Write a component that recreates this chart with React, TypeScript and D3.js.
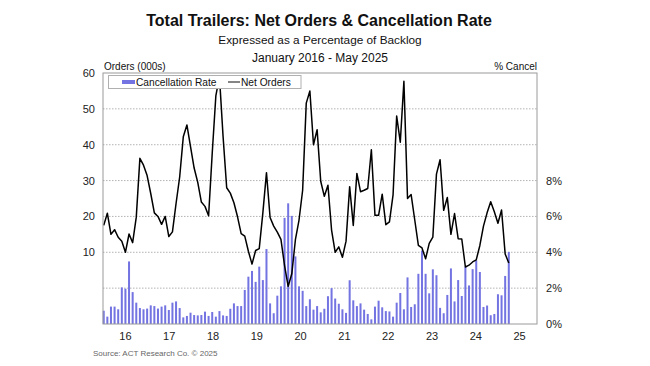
import * as d3 from "d3";

// monthly data, Jan 2016 - May 2025
const netOrders = [
  17.5, 20.9, 15.0, 16.3, 14.2, 13.1, 10.0, 15.1, 12.7, 19.8, 36.2, 34.3,
  31.4, 26.4, 21.0, 20.0, 17.8, 20.0, 14.4, 15.7, 23.6, 31.0, 42.2, 45.5,
  39.5, 33.5, 29.5, 24.0, 22.8, 20.2, 37.6, 53.6, 59.0, 42.3, 28.0, 26.5,
  23.8, 19.9, 15.2, 14.5, 10.3, 6.7, 10.5, 11.0, 21.0, 32.2, 19.7, 17.3,
  15.6, 13.6, 6.3, 0.5, 4.0, 13.5, 19.0, 27.3, 51.6, 55.0, 40.0, 44.2,
  29.8, 25.6, 28.7, 16.2, 10.0, 11.5, 8.6, 13.1, 28.3, 17.5, 32.0, 26.9,
  27.3, 27.8, 38.6, 20.3, 20.3, 26.2, 17.7, 18.5, 26.0, 48.0, 40.7, 57.7,
  25.0, 26.1, 19.0, 11.9, 11.2, 8.2, 12.5, 14.2, 31.8, 35.8, 21.7, 25.3,
  15.0, 20.8, 13.8, 13.7, 5.9, 6.4, 7.3, 7.9, 11.9, 17.3, 21.0, 24.1,
  21.3, 18.1, 21.8, 9.5, 7.0,
];

const cancelRate = [
  0.74, 0.41, 0.97, 0.97, 0.82, 2.04, 1.97, 3.49, 1.78, 1.19, 0.89, 0.82,
  0.86, 1.04, 1.0, 0.86, 0.97, 1.04, 0.78, 1.19, 1.26, 0.89, 0.37, 0.45,
  0.63, 0.5, 0.48, 0.5, 0.69, 0.45, 0.67, 0.41, 0.72, 0.48, 0.45, 0.85,
  1.15, 1.0, 1.0, 1.9, 2.64, 2.96, 2.35, 3.2, 2.45, 4.18, 1.15, 0.6,
  1.58, 2.1, 5.92, 6.73, 6.03, 3.77, 2.1, 1.85, 1.0, 1.38, 0.8, 1.0,
  0.65, 0.85, 1.55, 2.0, 1.42, 1.13, 0.82, 0.62, 2.44, 1.32, 1.0, 1.15,
  0.8, 0.56, 0.26, 0.97, 1.3, 0.93, 0.72, 0.7, 0.41, 1.19, 1.73, 0.82,
  2.6, 0.95, 1.1, 2.8, 4.1, 2.8, 1.71, 3.05, 2.72, 0.9, 0.6, 1.62,
  3.1, 1.26, 2.45, 1.56, 3.2, 2.15, 3.06, 3.55, 2.9, 0.95, 1.03, 0.49,
  0.56, 1.66, 1.6, 2.68, 4.02,
];

const years = ["16", "17", "18", "19", "20", "21", "22", "23", "24", "25"];
const ordersTicks = [10, 20, 30, 40, 50, 60];
const gridTicks = [0, 10, 20, 30, 40, 50];
const pctTicks = [0, 2, 4, 6, 8];

const W = 650;
const H = 366;
const left = 103;
const right = 537;
const top = 73;
const bottom = 324;
const barColor = "#7373e2";
const font = "'Liberation Sans', Arial, sans-serif";

export default function App() {
  // 120 monthly slots, Jan 2016 .. Dec 2025
  const slots = d3.range(120);
  const x = d3.scaleBand<number>().domain(slots).range([left, right]).padding(0);
  const bw = x.bandwidth();
  const xm = (i: number) => (x(i) ?? 0) + bw * 0.2;

  const yL = d3.scaleLinear().domain([-10, 60]).range([bottom, top]);
  const yR = d3.scaleLinear().domain([0, 14]).range([bottom, top]);

  const line = d3
    .line<number>()
    .x((_, i) => xm(i))
    .y(d => yL(d));

  return (
    <svg
      width={W}
      height={H}
      style={{ position: "absolute", left: 0, top: 0, background: "#fff" }}
      fontFamily={font}
    >
      {/* titles */}
      <text x={319} y={26} textAnchor="middle" fontSize={16} fontWeight="bold" fill="#111">
        Total Trailers: Net Orders &amp; Cancellation Rate
      </text>
      <text x={320} y={44} textAnchor="middle" fontSize={11.8} fill="#111">
        Expressed as a Percentage of Backlog
      </text>
      <text x={320} y={62} textAnchor="middle" fontSize={12} fill="#111">
        January 2016 - May 2025
      </text>

      <text x={104} y={70} fontSize={10} fill="#111">Orders (000s)</text>
      <text x={537} y={70} fontSize={10} textAnchor="end" fill="#111">% Cancel</text>

      {/* grid */}
      {gridTicks.map(t => (
        <line
          key={t}
          x1={left}
          x2={right}
          y1={yL(t)}
          y2={yL(t)}
          stroke="#a0a0a0"
          strokeWidth={0.8}
          strokeDasharray="1.5,1.5"
        />
      ))}

      {/* cancellation bars */}
      {cancelRate.map((v, i) => (
        <rect
          key={i}
          x={xm(i) - 1}
          y={yR(v)}
          width={2}
          height={bottom - yR(v)}
          fill={barColor}
        />
      ))}

      {/* net orders */}
      <path d={line(netOrders) ?? ""} fill="none" stroke="#000" strokeWidth={1.5} strokeLinejoin="round" />

      {/* frame */}
      <rect x={left} y={top} width={right - left} height={bottom - top} fill="none" stroke="#9a9a9a" strokeWidth={1} />

      {/* left axis */}
      {ordersTicks.map(t => (
        <text key={t} x={95} y={yL(t) + 4} textAnchor="end" fontSize={11} fill="#222">
          {t}
        </text>
      ))}

      {/* right axis */}
      {pctTicks.map(t => (
        <text key={t} x={546} y={yR(t) + 4} fontSize={11} fill="#222">
          {t}%
        </text>
      ))}

      {/* years, centred on July */}
      {years.map((y, k) => (
        <text key={y} x={xm(k * 12 + 6) + k * 0.4} y={340} textAnchor="middle" fontSize={11} fill="#222">
          {y}
        </text>
      ))}

      {/* legend */}
      <rect x={108.5} y={75.5} width={192.5} height={13} fill="#fff" stroke="#b0b0b0" />
      <rect x={122} y={80} width={13} height={4} fill={barColor} />
      <text x={136} y={85.5} fontSize={10.2} fill="#111">Cancellation Rate</text>
      <line x1={228} x2={240} y1={82} y2={82} stroke="#333" strokeWidth={1.2} />
      <text x={241} y={85.5} fontSize={10.2} fill="#111">Net Orders</text>

      <text x={93} y={356} fontSize={8} fill="#666">Source: ACT Research Co. © 2025</text>
    </svg>
  );
}
